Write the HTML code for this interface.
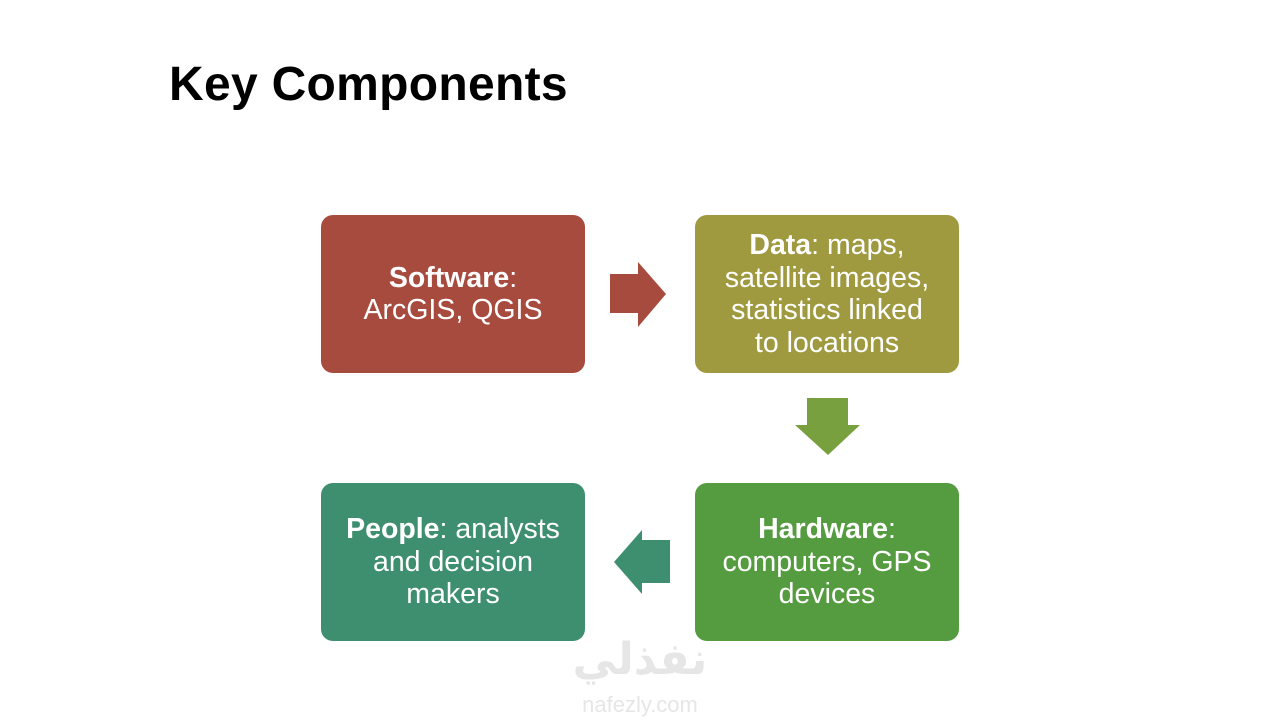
<!DOCTYPE html>
<html><head><style>
body{margin:0;width:1280px;height:720px;background:#fff;position:relative;overflow:hidden;font-family:"Liberation Sans",Arial,sans-serif}
h1{position:absolute;left:169px;top:57px;margin:0;font-size:48px;font-weight:bold;color:#000;letter-spacing:0.3px}
.b{position:absolute;width:264px;height:158px;border-radius:12px;color:#fff;font-size:28.5px;line-height:32.5px;display:flex;align-items:center;justify-content:center;text-align:center}
.wm{position:absolute;color:#e6e6e6;text-align:center}
</style></head><body>
<h1>Key Components</h1>
<div class="b" style="left:321px;top:215px;background:#A84B3F"><div><b>Software</b>:<br>ArcGIS, QGIS</div></div>
<div class="b" style="left:695px;top:215px;background:#9F9A40"><div><b>Data</b>: maps,<br>satellite images,<br>statistics linked<br>to locations</div></div>
<div class="b" style="left:695px;top:483px;background:#559B3F"><div><b>Hardware</b>:<br>computers, GPS<br>devices</div></div>
<div class="b" style="left:321px;top:483px;background:#3D8F6F"><div><b>People</b>: analysts<br>and decision<br>makers</div></div>
<svg style="position:absolute;left:0;top:0" width="1280" height="720">
<polygon points="610,274 638,274 638,262 666,294 638,327 638,313 610,313" fill="#A84B3F"/>
<polygon points="807,398 848,398 848,425 860,425 828,455 795,425 807,425" fill="#79A03F"/>
<polygon points="670,540 642,540 642,530 614,562 642,594 642,583 670,583" fill="#3D8F6F"/>
</svg>
<div class="wm" style="left:560px;top:634px;width:160px;font-size:44px;font-weight:bold;font-family:'DejaVu Sans',sans-serif">نفذلي</div>
<div class="wm" style="left:560px;top:692px;width:160px;font-size:22px">nafezly.com</div>
</body></html>
